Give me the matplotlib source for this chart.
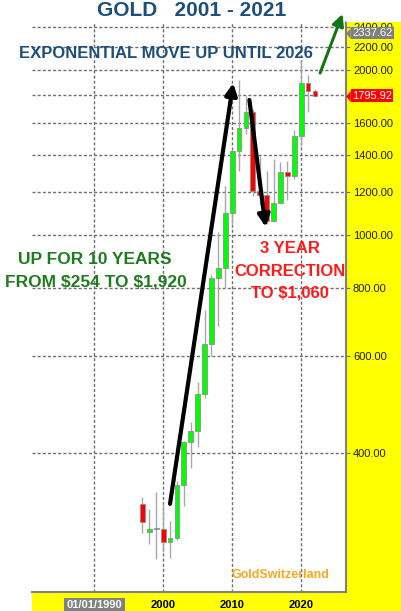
import matplotlib
matplotlib.use('Agg')
import matplotlib.pyplot as plt
from matplotlib.patches import Rectangle

plt.rcParams['font.family'] = ['Liberation Sans', 'DejaVu Sans']

W, H = 402, 611

# yearly candles
years = [1997, 1998, 1999, 2000, 2001, 2002, 2003, 2004, 2005, 2006, 2007, 2008, 2009,
         2010, 2011, 2012, 2013, 2014, 2015, 2016, 2017, 2018, 2019, 2020, 2021, 2022]
opens = [323, 287, 290, 290, 275, 280, 350, 418, 438, 513, 632, 834, 870,
         1096, 1421, 1566, 1675, 1202, 1184, 1061, 1146, 1303, 1282, 1517, 1895, 1829]
highs = [333, 316, 340, 324, 300, 356, 420, 456, 540, 730, 845, 1011, 1227,
         1431, 1921, 1796, 1696, 1392, 1308, 1375, 1358, 1366, 1557, 2075, 1959, 1850]
lows = [286, 273, 256, 264, 257, 277, 320, 375, 411, 505, 602, 681, 800,
        1045, 1308, 1527, 1180, 1132, 1046, 1061, 1146, 1160, 1266, 1451, 1677, 1785]
closes = [299, 291, 290, 275, 280, 350, 418, 438, 513, 632, 834, 870, 1096,
          1421, 1566, 1675, 1202, 1184, 1061, 1146, 1303, 1282, 1517, 1895, 1829, 1796]

price_ticks = [400, 600, 800, 1000, 1200, 1400, 1600, 1800, 2000, 2200, 2400]
year_ticks = [1990, 2000, 2010, 2020]
year_labels = ['01/01/1990', '2000', '2010', '2020']
last_price = 1795.92
top_price = 2337.62

# arrows (year, price)
up_arrow = [(2001.0, 323), (2010.15, 1893)]
down_arrow = [(2012.5, 1763), (2014.85, 1034)]
future_arrow = [(2022.75, 1975), (2026.0, 2531)]


def fx(px):
    return px / W


def fy(py):
    return 1 - py / H


fig = plt.figure(figsize=(W / 100, H / 100), dpi=100)
fig.add_artist(Rectangle((fx(346), 0), 1 - fx(346), fy(22), transform=fig.transFigure,
                         fc='#ffff00', ec='none', zorder=-1))
fig.add_artist(Rectangle((fx(32), 0), 1 - fx(32), fy(592), transform=fig.transFigure,
                         fc='#ffff00', ec='none', zorder=-1))

ax = fig.add_axes([fx(32), fy(592), fx(346) - fx(32), fy(22) - fy(592)])
ax.set_yscale('log')
ax.set_xlim(1981.0, 2026.5)
ax.set_ylim(223, 2447)

ax.set_yticks(price_ticks)
ax.set_yticklabels(['' if p == 1800 else '%.2f' % p for p in price_ticks])
ax.yaxis.set_minor_locator(plt.NullLocator())
ax.yaxis.tick_right()
ax.tick_params(axis='y', direction='out', length=3, width=0.8, color='#707070',
               labelsize=8, pad=2, labelcolor='#202000')
ax.set_xticks(year_ticks)
ax.set_xticklabels(year_labels)
ax.tick_params(axis='x', length=0, labelsize=8, pad=6)
for t in ax.get_xticklabels():
    t.set_fontweight('bold')
first = ax.get_xticklabels()[0]
first.set_color('white')
first.set_bbox(dict(boxstyle='square,pad=0.25', fc='#808080', ec='none'))

ax.grid(True, color='#707070', lw=1, linestyle=(0, (2.2, 1.5)))
for s in ['left', 'top']:
    ax.spines[s].set_visible(False)
for s in ['right', 'bottom']:
    ax.spines[s].set_color('#808080')
    ax.spines[s].set_linewidth(1.5)

# candles
colors = []
for o, c in zip(opens, closes):
    if c > o:
        colors.append('#00ff00')
    elif c < o:
        colors.append('#ff0000')
    else:
        colors.append('#a0a0a0')
bottoms = [min(o, c) for o, c in zip(opens, closes)]
heights = [max(abs(c - o), 1.5) for o, c in zip(opens, closes)]
ax.vlines(years, lows, highs, color='#a8a8a8', lw=1, zorder=2)
ax.bar(years, heights, bottom=bottoms, width=0.7, color=colors,
       edgecolor='#909090', lw=0.6, zorder=3)

# arrows
for pts, col, lw in [(up_arrow, 'black', 3), (down_arrow, 'black', 3), (future_arrow, '#157515', 2.2)]:
    a = ax.annotate('', xy=pts[1], xytext=pts[0], annotation_clip=False,
                    arrowprops=dict(arrowstyle='-|>,head_length=0.7,head_width=0.35',
                                    color=col, lw=lw, shrinkA=0, shrinkB=0), zorder=6)
    a.arrow_patch.set_clip_on(False)

# price tags on the right
ytr = ax.get_yaxis_transform()
for val, col in [(top_price, '#7f7f7f'), (last_price, '#ff0000')]:
    ax.text(1.019, val, '%.2f' % val, transform=ytr, ha='left', va='center',
            color='white', fontsize=8, zorder=7, clip_on=False,
            bbox=dict(boxstyle='square,pad=0.12', fc=col, ec='none'))
    ax.plot([1.007], [val], transform=ytr, clip_on=False, ls='none', color=col,
            marker=[(-0.4, 0), (0.4, 1), (0.4, -1)], markersize=8, mec='none', zorder=7)

# cover above the right axis strip
fig.add_artist(Rectangle((fx(346), fy(22)), 1 - fx(346), 1 - fy(22), transform=fig.transFigure,
                         fc='white', ec='none', zorder=3))

# texts
blue = '#1d4f7d'
fig.text(fx(192), fy(10), 'GOLD   2001 - 2021', ha='center', va='center',
         fontsize=15, fontweight='bold', color=blue, zorder=8)
fig.text(fx(166), fy(54), 'EXPONENTIAL MOVE UP UNTIL 2026', ha='center', va='center',
         fontsize=12, fontweight='bold', color=blue, zorder=8)
green = '#1e7b1e'
fig.text(fx(95), fy(260), 'UP FOR 10 YEARS', ha='center', va='center',
         fontsize=12.5, fontweight='bold', color=green, zorder=8)
fig.text(fx(96), fy(282), r'FROM \$254 TO \$1,920', ha='center', va='center',
         fontsize=12.5, fontweight='bold', color=green, zorder=8)
red = '#ff1a1a'
for txt, py in [('3 YEAR', 248.5), ('CORRECTION', 271.5), (r'TO \$1,060', 293.5)]:
    fig.text(fx(290), fy(py), txt, ha='center', va='center',
             fontsize=12, fontweight='bold', color=red, zorder=8)
fig.text(fx(232), fy(575), 'GoldSwitzerland', ha='left', va='center',
         fontsize=9, fontweight='bold', color='#f7a823', zorder=8)

fig.savefig('out.png', dpi=100)
